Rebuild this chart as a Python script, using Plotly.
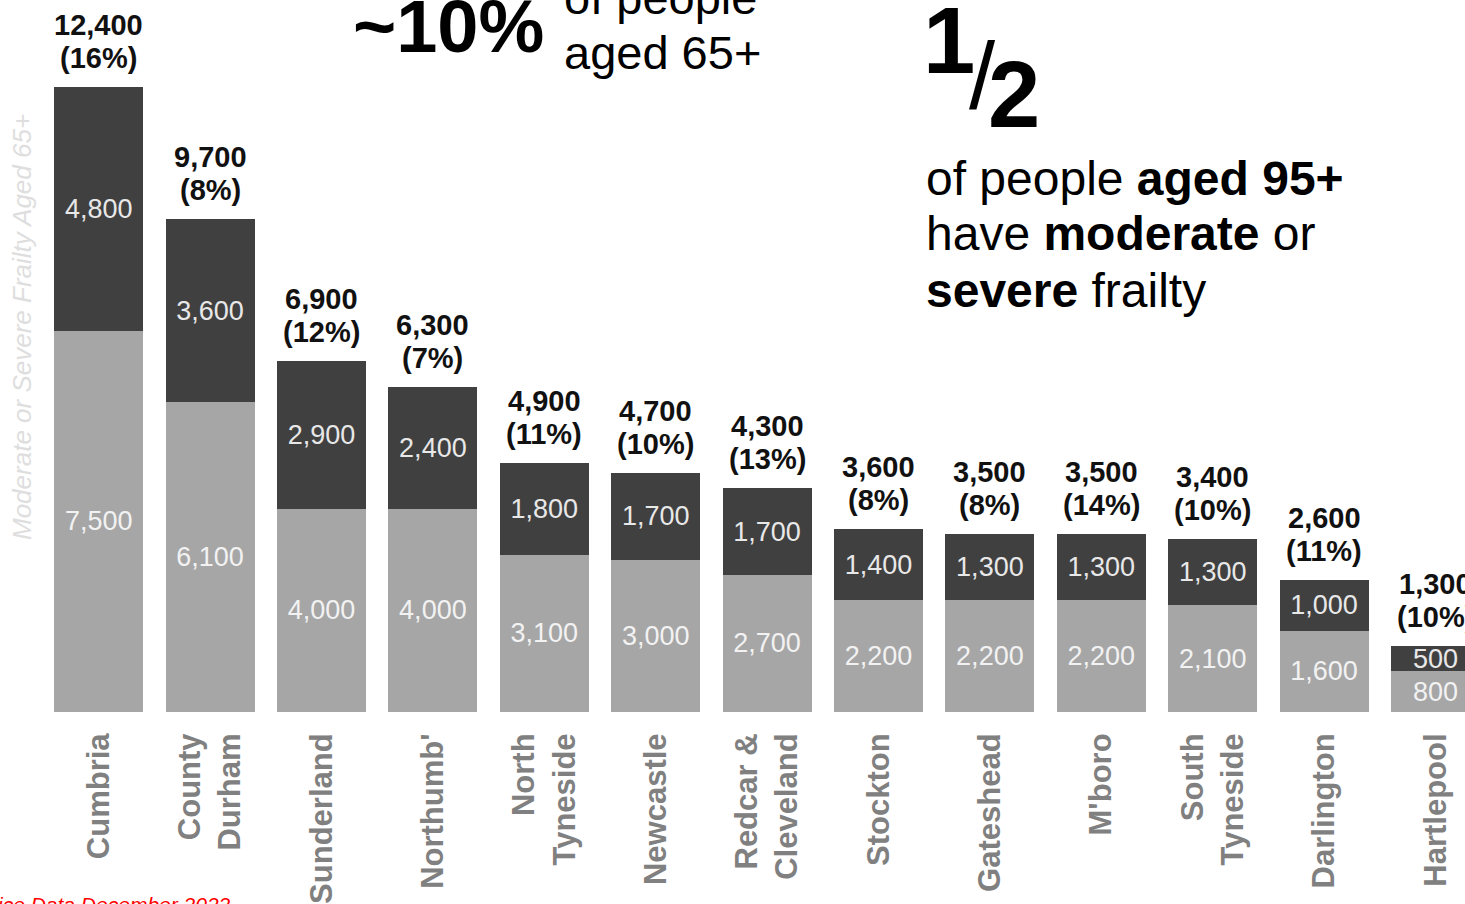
import plotly.graph_objects as go

# ---- data ----
categories = ["Cumbria", "County<br>Durham", "Sunderland", "Northumb'", "North<br>Tyneside",
              "Newcastle", "Redcar &<br>Cleveland", "Stockton", "Gateshead", "M'boro",
              "South<br>Tyneside", "Darlington", "Hartlepool"]
moderate = [7500, 6100, 4000, 4000, 3100, 3000, 2700, 2200, 2200, 2200, 2100, 1600, 800]
severe = [4800, 3600, 2900, 2400, 1800, 1700, 1700, 1400, 1300, 1300, 1300, 1000, 500]
totals = [12400, 9700, 6900, 6300, 4900, 4700, 4300, 3600, 3500, 3500, 3400, 2600, 1300]
pcts = [16, 8, 12, 7, 11, 10, 13, 8, 8, 14, 10, 11, 10]

W, H = 1465, 904
ML, MR, MT, MB = 43, 0, 0, 192
PW, PH = W - ML - MR, H - MT - MB
FONT = "Liberation Sans, Arial, sans-serif"


def px(x):
    return (x - ML) / PW


def py(y):
    return (H - MB - y) / PH


def note(x, y, text, size, xanchor="left", color="#000000", **kw):
    return dict(x=px(x), y=py(y), xref="paper", yref="paper", text=text,
                showarrow=False, xanchor=xanchor, yanchor="middle",
                font=dict(family=FONT, size=size, color=color), **kw)


fig = go.Figure()
fig.add_trace(go.Bar(
    x=categories, y=moderate, marker=dict(color="#a6a6a6", line=dict(width=0)),
    text=[f"{v:,}" for v in moderate], textposition="inside", insidetextanchor="middle",
    textfont=dict(family=FONT, size=27, color="#f2f2f2"), showlegend=False,
    hoverinfo="skip"))
fig.add_trace(go.Bar(
    x=categories, y=severe, marker=dict(color="#404040", line=dict(width=0)),
    text=[f"{v:,}" for v in severe], textposition="inside", insidetextanchor="middle",
    textfont=dict(family=FONT, size=27, color="#e8e8e8"), showlegend=False,
    hoverinfo="skip"))

annotations = []
for c, m, s, t, p in zip(categories, moderate, severe, totals, pcts):
    annotations.append(dict(
        x=c, y=m + s, xref="x", yref="y", text=f"<b>({p}%)</b>",
        showarrow=False, yanchor="middle", yshift=29,
        font=dict(family=FONT, size=29, color="#111111")))
    annotations.append(dict(
        x=c, y=m + s, xref="x", yref="y", text=f"<b>{t:,}</b>",
        showarrow=False, yanchor="middle", yshift=62,
        font=dict(family=FONT, size=29, color="#111111")))

# y-axis title (faint)
annotations.append(note(22, 327, "<i>Moderate or Severe Frailty Aged 65+</i>", 26,
                        xanchor="center", color="#dedede", textangle=-90))

# headline texts
annotations.append(note(546, 27, "<b>~10%</b>", 74, xanchor="right"))
annotations.append(note(562, -3, "of people", 47))
annotations.append(note(562, 53, "aged 65+", 47))
annotations.append(note(921, 40, "<b>1</b>", 94))
annotations.append(note(983, 77, "/", 94, xanchor="center"))
annotations.append(note(986, 95, "<b>2</b>", 94))
annotations.append(note(924, 178, "of people <b>aged 95+</b>", 48))
annotations.append(note(924, 234, "have <b>moderate</b> or", 48))
annotations.append(note(924, 290, "<b>severe</b> frailty", 48))

# source note (partially cut in reference)
annotations.append(note(233, 904, "<i>ice Data December 2022</i>", 21,
                        xanchor="right", color="#ff0000"))

fig.update_layout(
    width=W, height=H, barmode="stack", bargap=0.2,
    margin=dict(l=ML, r=MR, t=MT, b=MB),
    paper_bgcolor="white", plot_bgcolor="white",
    annotations=annotations,
    uniformtext=dict(minsize=27, mode="show"),
    xaxis=dict(range=[-0.5, 12.265], showgrid=False, zeroline=False, showline=False,
               tickangle=-90, ticks="outside", ticklen=8, tickcolor="rgba(0,0,0,0)",
               tickfont=dict(family=FONT, size=31, color="#808080", weight="bold")),
    yaxis=dict(range=[0, 14014], showgrid=False, zeroline=False, showline=False,
               showticklabels=False),
)

fig.write_html("out.html")
